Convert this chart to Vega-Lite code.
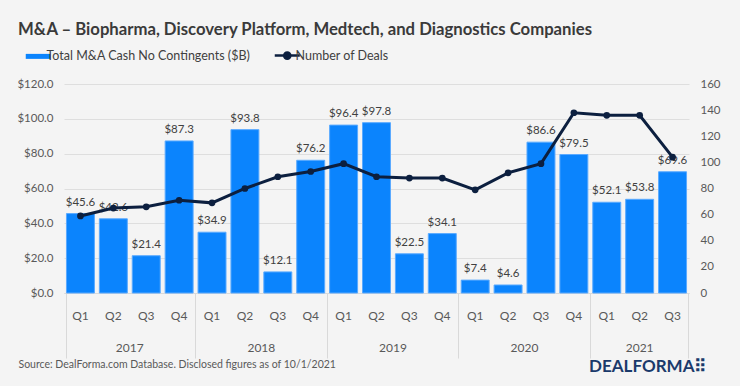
{
  "$schema": "https://vega.github.io/schema/vega-lite/v6.json",
  "width": 625,
  "height": 209,
  "autosize": {"type": "none"},
  "padding": {"left": 64, "top": 84, "right": 51, "bottom": 93},
  "background": "#f4f4f4",
  "config": {"view": {"stroke": null}, "font": "Lato"},
  "title": {
    "text": "M&A – Biopharma, Discovery Platform, Medtech, and Diagnostics Companies",
    "anchor": "start",
    "frame": "group",
    "dx": -46,
    "offset": 10,
    "font": "Lato",
    "fontSize": 16.7,
    "fontWeight": "bold",
    "color": "#3a3a3a"
  },
  "data": {
    "values": [
      {"key": "2017-Q1", "cash": 45.6, "deals": 59},
      {"key": "2017-Q2", "cash": 42.6, "deals": 65},
      {"key": "2017-Q3", "cash": 21.4, "deals": 66},
      {"key": "2017-Q4", "cash": 87.3, "deals": 71},
      {"key": "2018-Q1", "cash": 34.9, "deals": 69},
      {"key": "2018-Q2", "cash": 93.8, "deals": 80},
      {"key": "2018-Q3", "cash": 12.1, "deals": 89},
      {"key": "2018-Q4", "cash": 76.2, "deals": 93},
      {"key": "2019-Q1", "cash": 96.4, "deals": 99},
      {"key": "2019-Q2", "cash": 97.8, "deals": 89},
      {"key": "2019-Q3", "cash": 22.5, "deals": 88},
      {"key": "2019-Q4", "cash": 34.1, "deals": 88},
      {"key": "2020-Q1", "cash": 7.4, "deals": 79},
      {"key": "2020-Q2", "cash": 4.6, "deals": 92},
      {"key": "2020-Q3", "cash": 86.6, "deals": 99},
      {"key": "2020-Q4", "cash": 79.5, "deals": 138},
      {"key": "2021-Q1", "cash": 52.1, "deals": 136},
      {"key": "2021-Q2", "cash": 53.8, "deals": 136},
      {"key": "2021-Q3", "cash": 69.6, "deals": 104}
    ]
  },
  "resolve": {"scale": {"y": "independent"}, "axis": {"x": "independent", "y": "independent"}},
  "layer": [
    {
      "encoding": {
        "x": {
          "field": "key", "type": "ordinal", "sort": null,
          "scale": {"paddingInner": 0.15, "paddingOuter": 0.075},
          "axis": {
            "orient": "bottom",
            "labelExpr": "substring(datum.label, 5)",
            "labelAngle": 0,
            "ticks": false,
            "domain": true,
            "domainColor": "#d9d9d9",
            "labelPadding": 17,
            "labelFontSize": 12,
            "labelColor": "#595959",
            "title": "DEALFORMA⠿",
            "titleX": 642,
            "titleY": 73,
            "titleAlign": "right",
            "titleBaseline": "middle",
            "titleFontSize": 17,
            "titleFontWeight": "bold",
            "titleColor": "#1a3a6b",
            "titleFont": "Lato"
          }
        },
        "y": {
          "field": "cash", "type": "quantitative",
          "scale": {"domain": [0, 120]},
          "axis": {
            "orient": "left",
            "values": [0, 20, 40, 60, 80, 100, 120],
            "format": "$.1f",
            "labelOverlap": false,
            "grid": true,
            "gridColor": "#dedede",
            "domain": false,
            "ticks": false,
            "labelPadding": 11,
            "labelFontSize": 11.5,
            "labelColor": "#595959",
            "title": null
          }
        }
      },
      "layer": [
        {
          "mark": {"type": "bar", "stroke": "#5aaaff", "strokeWidth": 1},
          "encoding": {
            "color": {
              "datum": "Total M&A Cash No Contingents ($B)",
              "type": "nominal",
              "scale": {
                "domain": ["Total M&A Cash No Contingents ($B)", "Number of Deals"],
                "range": ["#0b84fd", "#0c1f3f"]
              },
              "legend": {
                "orient": "none",
                "legendX": -32,
                "legendY": -35,
                "direction": "horizontal",
                "title": null,
                "padding": 0,
                "symbolSize": 625,
                "labelFont": "Lato",
                "labelFontSize": 12.5,
                "labelColor": "#404040",
                "labelOffset": 2,
                "labelLimit": 400,
                "columnPadding": 18,
                "encoding": {
                  "symbols": {
                    "shape": {"value": {"expr": "datum.label == 'Number of Deals' ? 'M-1,0H1M0.25,0A0.25,0.25 0 1 1 -0.25,0A0.25,0.25 0 1 1 0.25,0' : 'M-1,-0.2H1V0.2H-1Z'"}},
                    "strokeWidth": {"value": {"expr": "datum.label == 'Number of Deals' ? 2.5 : 0"}},
                    "stroke": {"value": "#0c1f3f"},
                    "opacity": {"value": 1}
                  }
                }
              }
            }
          }
        },
        {
          "mark": {"type": "text", "baseline": "alphabetic", "dy": -8, "fontSize": 11.5, "color": "#404040"},
          "encoding": {
            "text": {"field": "cash", "type": "quantitative", "format": "$.1f"}
          }
        }
      ]
    },
    {
      "encoding": {
        "x": {
          "field": "key", "type": "ordinal", "sort": null,
          "axis": {
            "orient": "bottom",
            "labelExpr": "datum.value == '2017-Q2' ? '2017' : datum.value == '2018-Q2' ? '2018' : datum.value == '2019-Q2' ? '2019' : datum.value == '2020-Q2' ? '2020' : datum.value == '2021-Q2' ? '2021' : ''",
            "labelAngle": 0,
            "labelOffset": {"condition": {"test": "datum.value == '2021-Q2'", "value": 0}, "value": 16.45},
            "labelPadding": -16,
            "labelFontSize": 12,
            "labelColor": "#595959",
            "domain": false,
            "ticks": true,
            "tickSize": 65,
            "tickColor": "#d9d9d9",
            "tickOpacity": {"condition": {"test": "datum.extra || indexof(['2017-Q4','2018-Q4','2019-Q4','2020-Q4','2021-Q3'], datum.value) >= 0", "value": 1}, "value": 0},
            "bandPosition": 1.088,
            "tickExtra": true,
            "grid": false,
            "title": "Source: DealForma.com Database. Disclosed figures as of 10/1/2021",
            "titleX": -46,
            "titleY": 71.5,
            "titleAlign": "left",
            "titleBaseline": "middle",
            "titleFontSize": 10.5,
            "titleFontWeight": "normal",
            "titleColor": "#595959",
            "titleFont": "Lato"
          }
        },
        "y": {
          "field": "deals", "type": "quantitative",
          "scale": {"domain": [0, 160]},
          "axis": {
            "orient": "right",
            "values": [0, 20, 40, 60, 80, 100, 120, 140, 160],
            "labelOverlap": false,
            "grid": false,
            "domain": false,
            "ticks": false,
            "labelPadding": 11,
            "labelFontSize": 11.5,
            "labelColor": "#595959",
            "title": null
          }
        },
        "color": {"datum": "Number of Deals", "type": "nominal"}
      },
      "layer": [
        {"mark": {"type": "line", "strokeWidth": 3}},
        {"mark": {"type": "point", "filled": true, "size": 45, "opacity": 1}}
      ]
    }
  ]
}
